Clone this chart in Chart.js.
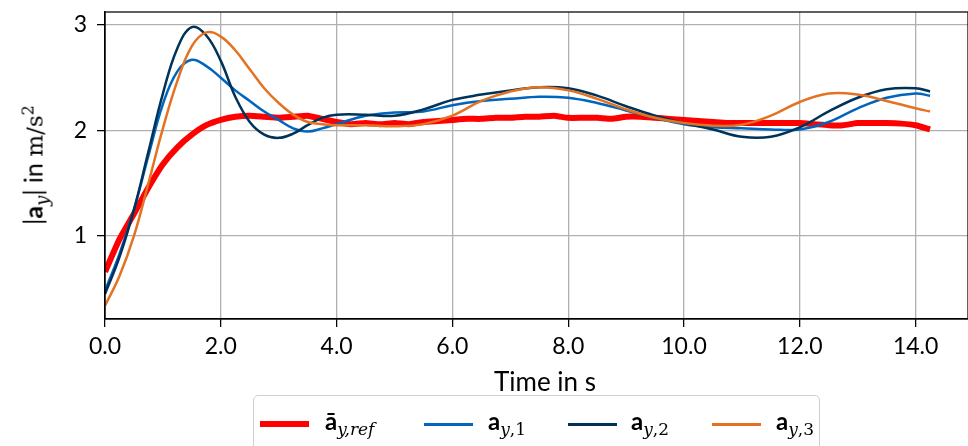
<!DOCTYPE html>
<html>
<head>
<meta charset="utf-8">
<script src="https://cdn.jsdelivr.net/npm/chart.js@4.4.0/dist/chart.umd.min.js"></script>
<style>
  html, body { margin:0; padding:0; background:#fff; }
  #wrap { position:relative; width:968px; height:446px; overflow:hidden; font-family: Lato, sans-serif; color:#000; }
  canvas { position:absolute; left:0; top:0; }
  #ytitle { position:absolute; left:35px; top:165px; transform: translate(-50%,-50%) rotate(-90deg); white-space:nowrap; font-size:25px; }
  #xtitle { position:absolute; left:545px; top:381px; transform: translate(-50%,-50%); white-space:nowrap; font-size:26px; }
  .serif { font-family: "DejaVu Serif", serif; font-size:23px; }
  #legend { position:absolute; left:253px; top:395px; width:567px; height:70px; border:1.5px solid #cfcfcf; border-radius:5px; box-sizing:border-box; }
  .ln { position:absolute; width:49px; }
  .lt { position:absolute; top:10px; font-size:24px; white-space:nowrap; }
  .lt b { font-family: Lato, sans-serif; }
  .lt sub { font-family: "DejaVu Serif", serif; font-size:17px; vertical-align:-5px; }
</style>
</head>
<body>
<div id="wrap">
  <canvas id="c" width="968" height="446"></canvas>
  <div id="ytitle">|<b>a</b><sub><i class="serif" style="font-size:18px">y</i></sub>| in <span class="serif">m/s<sup style="font-size:16px">2</sup></span></div>
  <div id="xtitle">Time in s</div>
  <div id="legend"></div>
</div>
<script>
// ---- data ----
const tModel = [0,0.25,0.5,0.75,1.0,1.25,1.5,1.75,2.0,2.25,2.5,2.75,3.0,3.25,3.5,3.75,4.0,4.5,5.0,5.5,6.0,6.5,7.0,7.5,8.0,8.5,9.0,9.5,10.0,10.5,11.0,11.5,12.0,12.5,13.0,13.5,14.0,14.25];
const ay1 = [0.48,0.83,1.25,1.76,2.25,2.56,2.67,2.61,2.50,2.38,2.28,2.18,2.10,2.02,1.99,2.02,2.06,2.14,2.17,2.18,2.24,2.28,2.30,2.32,2.31,2.26,2.19,2.12,2.06,2.03,2.02,2.01,2.01,2.08,2.21,2.31,2.35,2.33];
const ay2 = [0.45,0.80,1.25,1.80,2.35,2.78,2.98,2.90,2.66,2.32,2.08,1.96,1.93,1.97,2.05,2.12,2.15,2.15,2.14,2.20,2.29,2.34,2.38,2.41,2.40,2.33,2.23,2.14,2.07,2.01,1.94,1.94,2.03,2.18,2.31,2.39,2.40,2.37];
const ay3 = [0.34,0.62,1.00,1.50,2.02,2.47,2.80,2.93,2.89,2.76,2.58,2.40,2.26,2.15,2.08,2.06,2.05,2.05,2.04,2.06,2.14,2.28,2.37,2.41,2.38,2.30,2.20,2.12,2.07,2.045,2.055,2.14,2.27,2.35,2.34,2.28,2.21,2.18];
const tRef = [0,0.25,0.5,0.75,1.0,1.25,1.5,1.75,2.0,2.25,2.5,2.75,3.0,3.25,3.5,3.75,4.0,4.25,4.5,4.75,5.0,5.25,5.5,5.75,6.0,6.25,6.5,6.75,7.0,7.25,7.5,7.75,8.0,8.25,8.5,8.75,9.0,9.25,9.5,9.75,10.0,10.25,10.5,10.75,11.0,11.25,11.5,11.75,12.0,12.25,12.5,12.75,13.0,13.25,13.5,13.75,14.0,14.25];
const ayRef = [0.66,0.97,1.21,1.46,1.68,1.84,1.96,2.05,2.10,2.13,2.14,2.13,2.12,2.13,2.14,2.11,2.08,2.06,2.07,2.06,2.07,2.06,2.08,2.09,2.10,2.11,2.11,2.12,2.12,2.13,2.13,2.14,2.12,2.12,2.12,2.11,2.13,2.13,2.12,2.11,2.10,2.09,2.08,2.07,2.07,2.07,2.07,2.07,2.07,2.06,2.05,2.05,2.07,2.07,2.07,2.065,2.05,2.01];
const xTicks = [0,2,4,6,8,10,12,14];
const yTicks = [1,2,3];
const xRange = [0, 14.905];
const yRange = [0.213, 3.123];
const seriesNames = ['ā|<i>y,ref</i>','a|<i>y</i>,1','a|<i>y</i>,2','a|<i>y</i>,3'];
const colors = ['#ff0000','#0065bd','#003359','#e37222'];

const pts = (xs, ys) => xs.map((x,i)=>({x:x, y:ys[i]}));

const frame = {
  id:'frame',
  afterDraw(chart){
    const {ctx, chartArea:a} = chart;
    ctx.save();
    ctx.strokeStyle='#000'; ctx.lineWidth=1.25;
    ctx.strokeRect(a.left, a.top, a.right-a.left, a.bottom-a.top);
    ctx.restore();
  }
};

function fixRange(r, ticks){
  return {
    afterDataLimits(s){ s.min = r[0]; s.max = r[1]; },
    afterBuildTicks(s){ s.ticks = ticks.map(v=>({value:v})); s.min = r[0]; s.max = r[1]; }
  };
}

new Chart(document.getElementById('c'), {
  type:'line',
  data:{ datasets:[
    {data:pts(tRef,ayRef), borderColor:colors[0], borderWidth:6, tension:0.15, order:3},
    {data:pts(tModel,ay1), borderColor:colors[1], borderWidth:2.5, tension:0.4, order:2},
    {data:pts(tModel,ay2), borderColor:colors[2], borderWidth:2.5, tension:0.4, order:1},
    {data:pts(tModel,ay3), borderColor:colors[3], borderWidth:2.5, tension:0.4, order:0},
  ]},
  options:{
    responsive:false, animation:false,
    elements:{ point:{radius:0} },
    layout:{ padding:{ top:12, right:0, left:0, bottom:0 } },
    plugins:{ legend:{display:false}, tooltip:{enabled:false} },
    scales:{
      x:Object.assign({ type:'linear', min:xRange[0], max:xRange[1], bounds:'data',
        afterFit(s){ s.height = 127; s.paddingLeft = 0; s.paddingRight = 0; },
        grid:{ color:'#b0b0b0', lineWidth:1.3, tickColor:'#000', tickLength:8, tickWidth:1.25 },
        border:{ color:'#000', width:1.25 },
        ticks:{ color:'#000', font:{family:'Lato', size:23}, padding:6, maxRotation:0, autoSkip:false,
          callback:(v)=>Number(v).toFixed(1) }
      }, fixRange(xRange, xTicks)),
      y:Object.assign({ type:'linear', min:yRange[0], max:yRange[1], bounds:'data',
        afterFit(s){ s.width = 105; s.paddingTop = 0; s.paddingBottom = 0; },
        grid:{ color:'#b0b0b0', lineWidth:1.3, tickColor:'#000', tickLength:8, tickWidth:1.25 },
        border:{ color:'#000', width:1.25 },
        ticks:{ color:'#000', font:{family:'Lato', size:23}, padding:10, autoSkip:false,
          callback:(v)=>String(v) }
      }, fixRange(yRange, yTicks))
    }
  },
  plugins:[frame]
});

// HTML legend built from names/colors
const lg = document.getElementById('legend');
const lineX = [6, 170, 314, 458];
const textX = [71, 234, 377, 522];
seriesNames.forEach((n,i)=>{
  const [main, sub] = n.split('|');
  const ln = document.createElement('div');
  ln.className='ln';
  ln.style.left = lineX[i]+'px';
  const w = i===0 ? 6 : 3;
  ln.style.height = w+'px';
  ln.style.top = (28 - w/2)+'px';
  ln.style.background = colors[i];
  lg.appendChild(ln);
  const tx = document.createElement('div');
  tx.className='lt';
  tx.style.left = textX[i]+'px';
  tx.innerHTML = '<b>'+main+'</b><sub>'+sub+'</sub>';
  lg.appendChild(tx);
});
</script>
</body>
</html>
